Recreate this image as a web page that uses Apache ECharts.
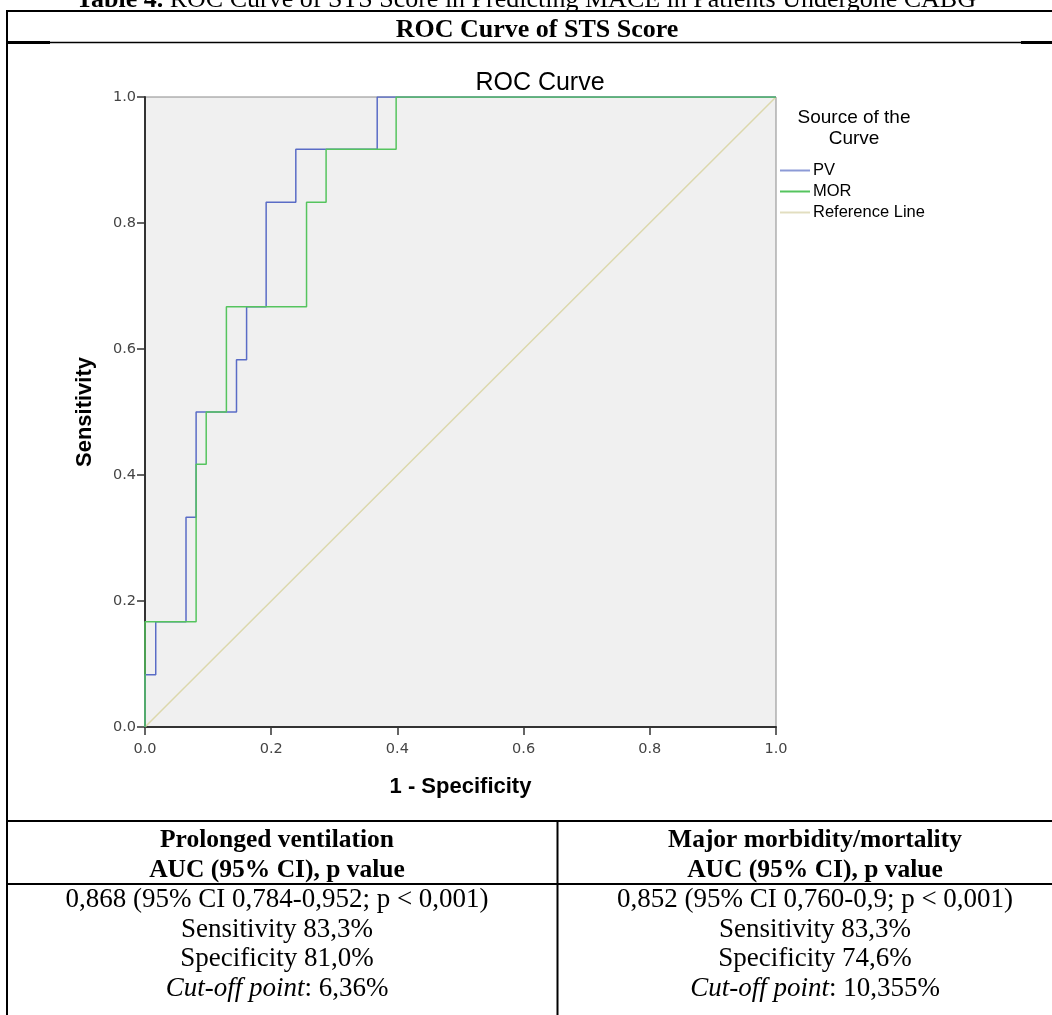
<!DOCTYPE html>
<html>
<head>
<meta charset="utf-8">
<title>ROC Curve of STS Score</title>
<script src="https://cdn.jsdelivr.net/npm/echarts@6/dist/echarts.min.js"></script>
<style>
  html, body { margin: 0; padding: 0; background: #fff; }
  #chart { width: 1052px; height: 1015px; }
</style>
</head>
<body>
<div id="chart"></div>
<script>
// corner points of the step curves (1 - specificity, sensitivity)
var pvX = [0, 0, 0.017, 0.017, 0.065, 0.065, 0.081, 0.081, 0.145, 0.145, 0.161, 0.161, 0.192, 0.192, 0.239, 0.239, 0.368, 0.368, 1]
var pvY = [0, 0.083, 0.083, 0.167, 0.167, 0.333, 0.333, 0.5, 0.5, 0.583, 0.583, 0.667, 0.667, 0.833, 0.833, 0.917, 0.917, 1, 1]
var morX = [0, 0, 0.081, 0.081, 0.097, 0.097, 0.129, 0.129, 0.256, 0.256, 0.287, 0.287, 0.398, 0.398, 1]
var morY = [0, 0.167, 0.167, 0.417, 0.417, 0.5, 0.5, 0.667, 0.667, 0.833, 0.833, 0.917, 0.917, 1, 1]
var refX = [0, 1]
var refY = [0, 1]
var tickLabels = ['0.0', '0.2', '0.4', '0.6', '0.8', '1.0']

var leftCol = ['0,868 (95% CI 0,784-0,952; p < 0,001)', 'Sensitivity 83,3%', 'Specificity 81,0%', '6,36%']
var rightCol = ['0,852 (95% CI 0,760-0,9; p < 0,001)', 'Sensitivity 83,3%', 'Specificity 74,6%', '10,355%']

function pairs(xs, ys) {
  return xs.map(function (x, i) { return [x, ys[i]] })
}

var serif = 'Liberation Serif'
var sans = 'Liberation Sans'

function hline(x1, x2, y, w) {
  return { type: 'line', shape: { x1: x1, y1: y, x2: x2, y2: y }, style: { stroke: '#000', lineWidth: w || 2 } }
}
function vline(x, y1, y2, w) {
  return { type: 'line', shape: { x1: x, y1: y1, x2: x, y2: y2 }, style: { stroke: '#000', lineWidth: w || 2 } }
}
function txt(x, y, text, bold, size) {
  return {
    type: 'text', x: x, y: y,
    style: {
      text: text, fill: '#000', align: 'center', verticalAlign: 'middle',
      font: (bold ? 'bold ' : '') + (size || 27) + 'px "' + serif + '"'
    }
  }
}
function cutoff(x, y, val) {
  return {
    type: 'text', x: x, y: y,
    style: {
      text: '{i|Cut-off point}{n|: ' + val + '}', align: 'center', verticalAlign: 'middle',
      rich: {
        i: { fontFamily: serif, fontSize: 27, fontStyle: 'italic', fill: '#000' },
        n: { fontFamily: serif, fontSize: 27, fill: '#000' }
      }
    }
  }
}

var leftC = 277
var rightC = 815
var rowY = [900, 929.5, 959, 988.5]

var chart = echarts.init(document.getElementById('chart'))
chart.setOption({
  backgroundColor: '#fff',
  animation: false,
  title: {
    text: 'ROC Curve',
    left: 535,
    top: 66,
    textAlign: 'center',
    textStyle: { fontFamily: sans, fontSize: 25, fontWeight: 'normal', color: '#000' }
  },
  legend: {
    orient: 'vertical',
    left: 775,
    top: 157,
    icon: 'rect',
    itemWidth: 30,
    itemHeight: 2,
    itemGap: 4,
    textStyle: { fontFamily: sans, fontSize: 16.5, color: '#000', padding: [0, 0, 0, -2] },
    data: ['PV', 'MOR', 'Reference Line']
  },
  grid: {
    left: 145,
    top: 97,
    width: 631,
    height: 630,
    show: true,
    backgroundColor: '#f0f0f0',
    borderColor: '#8a8a8a',
    borderWidth: 1
  },
  xAxis: {
    type: 'value',
    min: 0,
    max: 1,
    interval: 0.2,
    name: '1 - Specificity',
    nameLocation: 'middle',
    nameGap: 49,
    nameTextStyle: { fontFamily: sans, fontSize: 22, fontWeight: 'bold', color: '#000' },
    axisLine: { show: true, lineStyle: { color: '#333', width: 2 } },
    axisTick: { show: true, length: 8, lineStyle: { color: '#333', width: 1.5 } },
    axisLabel: {
      fontFamily: 'DejaVu Sans', fontSize: 14.5, color: '#444', margin: 15,
      formatter: function (v) { return tickLabels[Math.round(v * 5)] }
    },
    splitLine: { show: false }
  },
  yAxis: {
    type: 'value',
    min: 0,
    max: 1,
    interval: 0.2,
    name: 'Sensitivity',
    nameLocation: 'middle',
    nameGap: 49,
    nameTextStyle: { fontFamily: sans, fontSize: 22, fontWeight: 'bold', color: '#000' },
    axisLine: { show: true, lineStyle: { color: '#333', width: 2 } },
    axisTick: { show: true, length: 8, lineStyle: { color: '#333', width: 1.5 } },
    axisLabel: {
      fontFamily: 'DejaVu Sans', fontSize: 14.5, color: '#444', margin: 9,
      formatter: function (v) { return tickLabels[Math.round(v * 5)] }
    },
    splitLine: { show: false }
  },
  series: [{
    name: 'PV',
    type: 'line',
    showSymbol: false,
    symbol: 'none',
    lineStyle: { color: '#5a6cc6', width: 1.5 },
    itemStyle: { color: '#8c9ad6' },
    data: pairs(pvX, pvY),
    z: 3
  }, {
    name: 'MOR',
    type: 'line',
    showSymbol: false,
    symbol: 'none',
    lineStyle: { color: '#55c45e', width: 1.5 },
    itemStyle: { color: '#55c45e' },
    data: pairs(morX, morY),
    z: 4
  }, {
    name: 'Reference Line',
    type: 'line',
    showSymbol: false,
    symbol: 'none',
    lineStyle: { color: '#dcd8ac', width: 1.5 },
    itemStyle: { color: '#e2dec0' },
    data: pairs(refX, refY),
    z: 2
  }],
  graphic: [
    // table title, cut by the top edge
    {
      type: 'text', x: 526, y: 13,
      style: {
        text: '{b|Table 4.}{n| ROC Curve of STS Score in Predicting MACE in Patients Undergone CABG}',
        align: 'center', verticalAlign: 'bottom',
        rich: {
          b: { fontFamily: serif, fontSize: 26, fontWeight: 'bold', fill: '#000' },
          n: { fontFamily: serif, fontSize: 26, fill: '#000' }
        }
      }
    },
    hline(7, 1052, 11),
    vline(7, 10, 1015),
    hline(7, 1052, 42.5, 1.5),
    hline(7, 50, 42.5, 3),
    hline(1021, 1052, 42.5, 3),
    txt(537, 30, 'ROC Curve of STS Score', true, 26),
    hline(7, 1052, 821),
    hline(7, 1052, 884),
    vline(557.5, 821, 1015),
    txt(leftC, 840, 'Prolonged ventilation', true, 25.5),
    txt(leftC, 870, 'AUC (95% CI), p value', true, 25.5),
    txt(rightC, 840, 'Major morbidity/mortality', true, 25.5),
    txt(rightC, 870, 'AUC (95% CI), p value', true, 25.5),
    txt(leftC, rowY[0], leftCol[0]),
    txt(leftC, rowY[1], leftCol[1]),
    txt(leftC, rowY[2], leftCol[2]),
    cutoff(leftC, rowY[3], leftCol[3]),
    txt(rightC, rowY[0], rightCol[0]),
    txt(rightC, rowY[1], rightCol[1]),
    txt(rightC, rowY[2], rightCol[2]),
    cutoff(rightC, rowY[3], rightCol[3]),
    // legend heading
    {
      type: 'text', x: 854, y: 107,
      style: {
        text: 'Source of the\nCurve', align: 'center', verticalAlign: 'top',
        font: '19px "' + sans + '"', fill: '#000', lineHeight: 21
      }
    }
  ]
})
</script>
</body>
</html>
